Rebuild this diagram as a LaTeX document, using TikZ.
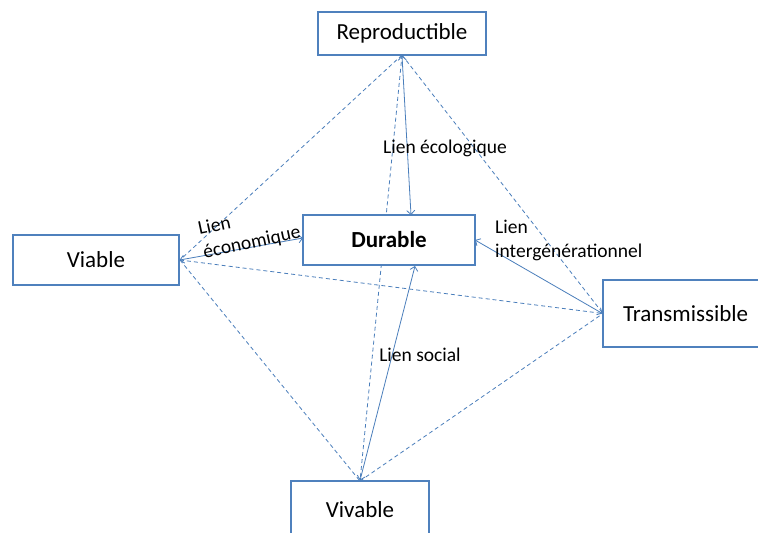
\documentclass[tikz,border=0pt]{standalone}
\usepackage{fontspec}
\setmainfont{Carlito}
\usetikzlibrary{arrows.meta}
\definecolor{boxblue}{RGB}{79,129,189}
\definecolor{lineblue}{RGB}{74,126,187}
\tikzset{
  box/.style={draw=boxblue, line width=1.1pt, fill=white, inner sep=0pt,
    font=\fontsize{23}{27}\selectfont},
  lbl/.style={inner sep=0pt, font=\fontsize{19.5}{24}\selectfont},
  dlink/.style={draw=lineblue, line width=0.8pt, dash pattern=on 4pt off 3pt},
  slink/.style={draw=lineblue, line width=0.8pt,
    {Straight Barb[length=4pt,width=8pt]}-{Straight Barb[length=4pt,width=8pt]}}
}
\begin{document}
\begin{tikzpicture}[x=1pt,y=-1pt]
\useasboundingbox (0,0) rectangle (758,533);
\clip (0,0) rectangle (758,533);
\fill[white] (0,0) rectangle (758,533);
% dashed links first (behind)
\coordinate (rS) at (402,55);
\coordinate (vE) at (180,260);
\coordinate (tW) at (603,313.5);
\coordinate (wN) at (360,481);
\draw[dlink] (rS) -- (vE);
\draw[dlink] (rS) -- (wN);
\draw[dlink] (rS) -- (tW);
\draw[dlink] (vE) -- (tW);
\draw[dlink] (vE) -- (wN);
\draw[dlink] (wN) -- (tW);
% boxes
\node[box, minimum width=168pt, minimum height=43pt] (repro) at (402,33.5) {Reproductible};
\node[box, minimum width=172pt, minimum height=50pt] (dur) at (389,240) {\bfseries Durable};
\node[box, minimum width=166pt, minimum height=50pt] (viable) at (96,260) {Viable};
\node[box, minimum width=170pt, minimum height=67pt, text width=170pt, align=left] (trans) at (688,313.5) {\hspace{20pt}Transmissible};
\node[box, minimum width=138pt, minimum height=58pt] (vivable) at (360,510) {Vivable};
% Durable attachment points
\coordinate (dN) at (411,215);
\coordinate (dW) at (303,238);
\coordinate (dE) at (475,240);
\coordinate (dS) at (415,266);
% solid links
\draw[slink] (repro.south) -- (dN);
\draw[slink] (viable.east) -- (dW);
\draw[slink] (trans.west) -- (dE);
\draw[slink] (vivable.north) -- (dS);
% labels
\node[lbl] (l1) at (445,148) {Lien écologique};
\node[lbl] (l2) at (420,355) {Lien social};
\node[lbl, anchor=west, align=left] (l3) at (495,240) {Lien\\intergénérationnel};
\node[lbl, align=left, rotate=12] (l4) at (249.5,231.3) {Lien\\économique};
\end{tikzpicture}
\end{document}
